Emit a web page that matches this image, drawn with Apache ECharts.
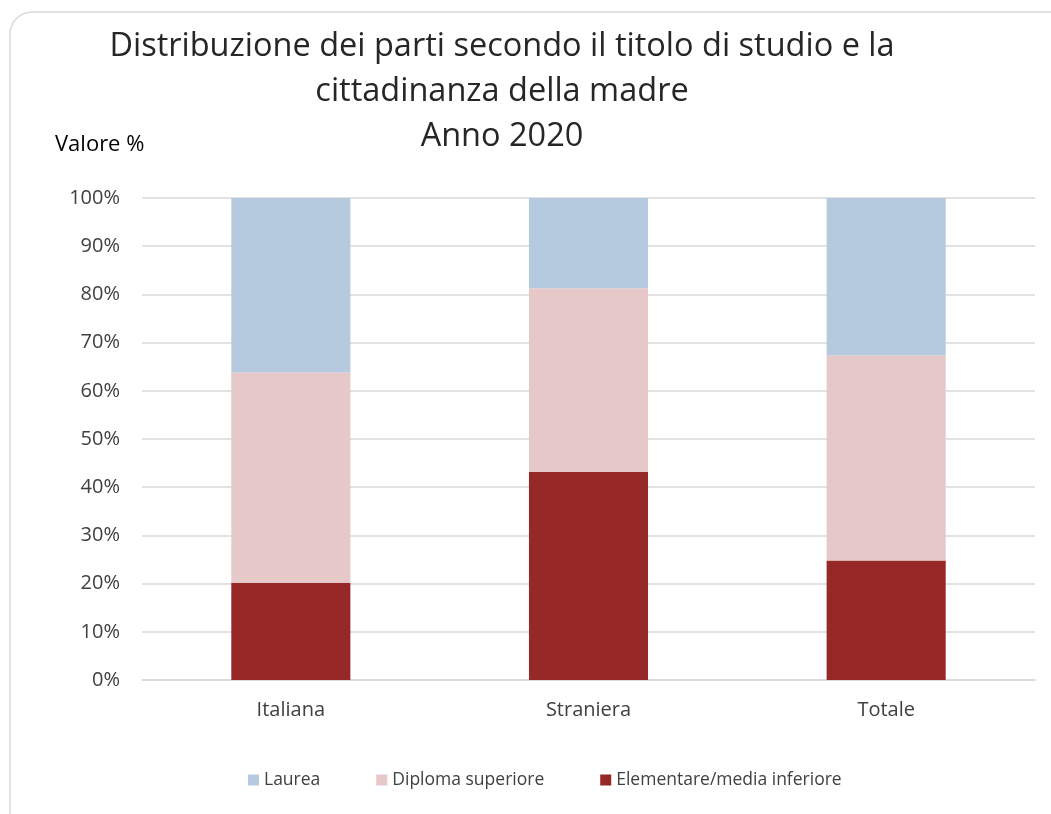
<!DOCTYPE html>
<html>
<head>
<meta charset="utf-8">
<script src="https://cdn.jsdelivr.net/npm/echarts@6/dist/echarts.min.js"></script>
<style>
  html, body { margin: 0; padding: 0; background: #fff; }
  #chart { width: 1051px; height: 814px; }
</style>
</head>
<body>
<div id="chart"></div>
<script>
const categories = ['Italiana', 'Straniera', 'Totale']
const elementare = [20.1, 43.2, 24.8]
const diploma = [43.7, 38.1, 42.6]
const laurea = [36.2, 18.7, 32.6]
const yTicks = [0, 10, 20, 30, 40, 50, 60, 70, 80, 90, 100]

const font = '"Open Sans", "Noto Sans", sans-serif'
const chart = echarts.init(document.getElementById('chart'))

chart.setOption({
  backgroundColor: '#fff',
  textStyle: { fontFamily: font },
  graphic: [{
    type: 'rect',
    shape: { x: 10, y: 12, width: 1070, height: 830, r: 22 },
    style: { fill: 'none', stroke: '#d9d9d9', lineWidth: 1.5 },
    silent: true
  }],
  title: [{
    text: 'Distribuzione dei parti secondo il titolo di studio e la\ncittadinanza della madre\nAnno 2020',
    left: 497, top: 19, textAlign: 'center',
    textStyle: { fontFamily: font, fontSize: 32.5, fontWeight: 'normal', color: '#262626', lineHeight: 45 }
  }, {
    text: 'Valore %', left: 50, top: 129,
    textStyle: { fontFamily: font, fontSize: 22, fontWeight: 'normal', color: '#000' }
  }],
  legend: {
    bottom: 20, left: 243, itemGap: 56,
    icon: 'rect', itemWidth: 11, itemHeight: 11,
    data: ['Laurea', 'Diploma superiore', 'Elementare/media inferiore'],
    textStyle: { fontFamily: font, fontSize: 17.5, color: '#404040' }
  },
  grid: { left: 142, right: 16, top: 198, bottom: 134, containLabel: false },
  xAxis: {
    type: 'category', data: categories,
    axisLine: { lineStyle: { color: '#d9d9d9', width: 1.5 } },
    axisTick: { show: false },
    axisLabel: { fontFamily: font, fontSize: 20, color: '#404040', margin: 20 }
  },
  yAxis: {
    type: 'value', min: yTicks[0], max: yTicks[yTicks.length - 1], interval: 10,
    axisLine: { show: false }, axisTick: { show: false },
    splitLine: { lineStyle: { color: '#d9d9d9', width: 1.5 } },
    axisLabel: { fontFamily: font, fontSize: 20, color: '#404040', margin: 22, formatter: v => v + '%' }
  },
  series: [
    { name: 'Elementare/media inferiore', type: 'bar', stack: 'tot', data: elementare, barWidth: '40%', itemStyle: { color: '#962828' } },
    { name: 'Diploma superiore', type: 'bar', stack: 'tot', data: diploma, itemStyle: { color: '#e6c8c9' } },
    { name: 'Laurea', type: 'bar', stack: 'tot', data: laurea, itemStyle: { color: '#b5cadf' } }
  ]
})
</script>
</body>
</html>
